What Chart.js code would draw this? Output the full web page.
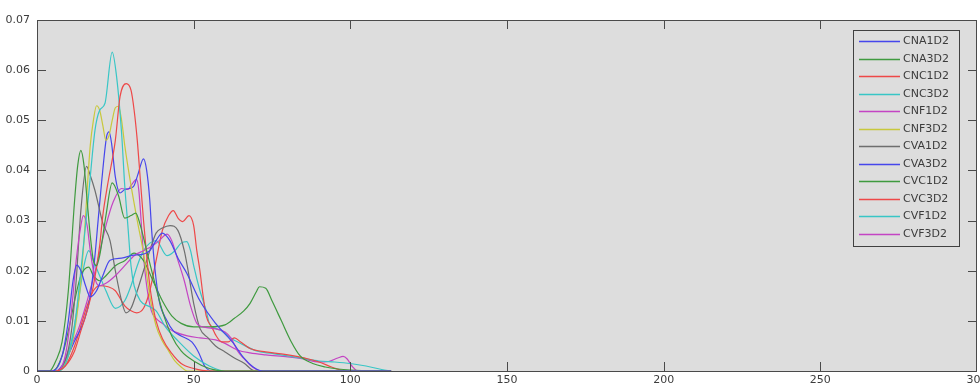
<!DOCTYPE html>
<html>
<head>
<meta charset="utf-8">
<script src="https://cdn.jsdelivr.net/npm/chart.js@4.4.1/dist/chart.umd.min.js"></script>
<style>
  html, body { margin: 0; padding: 0; background: #fff; }
  canvas { display: block; }
</style>
</head>
<body>
<canvas id="myChart" width="980" height="385"></canvas>
<script>
// legend names (same order as the plot)
const seriesNames = ['CNA1D2', 'CNA3D2', 'CNC1D2', 'CNC3D2', 'CNF1D2', 'CNF3D2',
                     'CVA1D2', 'CVA3D2', 'CVC1D2', 'CVC3D2', 'CVF1D2', 'CVF3D2'];
const seriesColors = ['#4646ec', '#3f9a3f', '#ee4848', '#38c6c6', '#c444c4', '#c8c83c',
                      '#6e6e6e', '#4646ec', '#3f9a3f', '#ee4848', '#38c6c6', '#c444c4'];

const xTicks = [0, 50, 100, 150, 200, 250, 300];
const yTicks = [0, 0.01, 0.02, 0.03, 0.04, 0.05, 0.06, 0.07];

// values (x, y) for each curve
const cna1d2X = [0, 5, 8, 10, 11.5, 12.7, 14, 15.5, 17, 19, 21, 23.3, 27, 30.7, 33, 36, 38, 40, 42.4, 45, 47.8, 52, 57, 62.6, 66, 69, 72, 113];
const cna1d2Y = [0, 0, 0.003, 0.01, 0.018, 0.0211, 0.02, 0.017, 0.0148, 0.016, 0.019, 0.0221, 0.0225, 0.0231, 0.0232, 0.024, 0.026, 0.0275, 0.026, 0.0225, 0.0195, 0.014, 0.0095, 0.0056, 0.0026, 0.0008, 0, 0];

const cna3d2X = [0, 4, 6, 8, 10, 12, 13, 14, 15, 16, 17, 18, 19, 20, 22, 24, 26, 28, 30, 31.5, 33, 35, 37, 40, 43, 46, 50, 55, 60, 113];
const cna3d2Y = [0, 0, 0.002, 0.0058, 0.016, 0.034, 0.041, 0.044, 0.041, 0.034, 0.027, 0.022, 0.021, 0.023, 0.031, 0.0375, 0.035, 0.0305, 0.031, 0.0315, 0.029, 0.024, 0.019, 0.012, 0.007, 0.004, 0.002, 0.0005, 0, 0];

const cnc1d2X = [0, 6, 9, 12, 14, 16, 18, 20, 21, 22.5, 25, 26.5, 28.5, 30, 31, 32, 33, 34, 35, 36, 37, 38, 40, 43, 46, 50, 55, 113];
const cnc1d2Y = [0, 0, 0.001, 0.004, 0.008, 0.012, 0.017, 0.025, 0.031, 0.037, 0.046, 0.0547, 0.0573, 0.056, 0.052, 0.046, 0.038, 0.03, 0.023, 0.017, 0.013, 0.01, 0.0065, 0.0035, 0.0015, 0.0005, 0, 0];

const cnc3d2X = [0, 7, 10, 12, 14, 16.3, 18.5, 20, 21.7, 24, 25.4, 27, 28, 29, 30, 31, 33, 36, 38, 41, 45, 50, 55, 60, 113];
const cnc3d2Y = [0, 0, 0.003, 0.009, 0.02, 0.034, 0.048, 0.052, 0.0534, 0.0636, 0.0587, 0.0474, 0.037, 0.029, 0.021, 0.017, 0.014, 0.0128, 0.012, 0.0088, 0.006, 0.003, 0.001, 0, 0];

const cnf1d2X = [0, 6, 9, 11, 12.5, 14, 14.8, 16, 17, 18, 19, 20, 22, 25, 28, 31, 34, 37, 39, 41.5, 43, 45, 47, 49, 51, 53, 56, 60, 62, 64, 66, 68, 70, 72, 113];
const cnf1d2Y = [0, 0, 0.003, 0.012, 0.022, 0.029, 0.031, 0.029, 0.024, 0.02, 0.0175, 0.017, 0.0175, 0.019, 0.021, 0.023, 0.024, 0.025, 0.026, 0.0273, 0.026, 0.022, 0.018, 0.013, 0.0095, 0.0088, 0.0085, 0.0078, 0.0065, 0.004, 0.0025, 0.0012, 0.0003, 0, 0];

const cnf3d2X = [0, 7, 10, 12, 13.5, 15, 16, 17, 18, 19, 20, 21, 22, 23, 24, 25, 26, 27, 28, 30, 32, 34, 36, 38, 40, 42, 44, 46, 48, 113];
const cnf3d2Y = [0, 0, 0.003, 0.008, 0.015, 0.026, 0.036, 0.045, 0.05, 0.0529, 0.052, 0.049, 0.046, 0.047, 0.05, 0.0525, 0.0528, 0.05, 0.045, 0.037, 0.03, 0.0235, 0.015, 0.009, 0.006, 0.004, 0.002, 0.0008, 0, 0];

const cva1d2X = [0, 6, 9, 11, 12.5, 14, 15.8, 17, 18.5, 21, 23.3, 25, 27, 28.4, 30, 32, 34, 36, 38, 40, 42.5, 45, 47, 48, 50, 52, 54.6, 57, 60, 63, 66, 69.6, 113];
const cva1d2Y = [0, 0, 0.002, 0.008, 0.018, 0.032, 0.0408, 0.039, 0.036, 0.0295, 0.026, 0.02, 0.014, 0.0116, 0.0125, 0.016, 0.02, 0.024, 0.0275, 0.0285, 0.029, 0.028, 0.024, 0.0208, 0.0135, 0.0085, 0.0066, 0.005, 0.0038, 0.0026, 0.0016, 0, 0];

const cva3d2X = [0, 6, 9, 12, 15, 17, 18.5, 19.5, 20.6, 22.2, 23, 23.8, 25, 26.5, 28, 30, 31, 32.3, 34, 35, 36, 36.6, 37.7, 39, 41.4, 43.5, 46, 49.4, 51.5, 53.6, 56, 113];
const cva3d2Y = [0, 0, 0.002, 0.006, 0.01, 0.015, 0.023, 0.03, 0.0375, 0.0467, 0.0477, 0.0454, 0.0387, 0.0355, 0.0362, 0.0365, 0.037, 0.0394, 0.0423, 0.04, 0.034, 0.028, 0.02, 0.014, 0.0101, 0.008, 0.007, 0.0058, 0.0038, 0.0009, 0, 0];

const cvc1d2X = [0, 5, 8, 10, 12, 14, 16.5, 18, 20, 22, 25, 28, 31, 34, 37, 40, 43, 46, 50, 55, 60, 63, 66, 68, 70, 71, 73, 75, 78, 81, 84, 88, 92, 96, 100, 113];
const cvc1d2Y = [0, 0, 0.003, 0.008, 0.014, 0.019, 0.0207, 0.019, 0.018, 0.019, 0.021, 0.022, 0.0235, 0.022, 0.018, 0.014, 0.011, 0.0095, 0.0088, 0.0088, 0.0092, 0.0105, 0.012, 0.0135, 0.0158, 0.0168, 0.0165, 0.014, 0.01, 0.006, 0.003, 0.0015, 0.0008, 0.0004, 0.0002, 0];

const cvc3d2X = [0, 6, 9, 12, 14, 16, 18, 20, 22.7, 25, 28, 30, 31.8, 34, 36, 38, 40, 42, 43.5, 45, 46.5, 48.5, 50, 51, 52, 53, 54, 56, 57, 59, 61, 63, 65, 68, 73, 78, 82, 86, 90, 94, 97, 100, 113];
const cvc3d2Y = [0, 0, 0.001, 0.005, 0.009, 0.013, 0.016, 0.017, 0.0168, 0.016, 0.013, 0.012, 0.0116, 0.0125, 0.016, 0.022, 0.028, 0.031, 0.032, 0.0305, 0.0298, 0.031, 0.029, 0.024, 0.02, 0.015, 0.011, 0.0085, 0.0072, 0.0058, 0.0058, 0.0066, 0.0058, 0.0045, 0.0038, 0.0034, 0.003, 0.0025, 0.0018, 0.0008, 0.0002, 0, 0];

const cvf1d2X = [0, 6, 9, 11, 13, 15, 16.5, 18, 20, 22, 25, 28, 30, 32, 34, 36, 38, 41.5, 44, 46, 47.8, 49, 50, 52, 54, 55, 57, 59, 62, 65, 70, 75, 80, 85, 90, 95, 100, 105, 110, 113];
const cvf1d2Y = [0, 0, 0.002, 0.006, 0.013, 0.021, 0.024, 0.022, 0.019, 0.016, 0.0125, 0.014, 0.017, 0.021, 0.024, 0.0255, 0.026, 0.023, 0.024, 0.0255, 0.0258, 0.024, 0.021, 0.016, 0.012, 0.0095, 0.0085, 0.008, 0.0065, 0.0055, 0.004, 0.0035, 0.003, 0.0025, 0.002, 0.0018, 0.0015, 0.001, 0.0003, 0];

const cvf3d2X = [0, 7, 10, 13, 16, 19, 22, 24.3, 27, 29, 30, 31.8, 32.5, 33, 34, 35, 36.5, 38, 40, 42, 44, 48, 52, 57, 60, 64, 68, 73, 80, 85, 90, 93, 96, 97.7, 99, 100.5, 102.5, 113];
const cvf3d2Y = [0, 0, 0.004, 0.008, 0.014, 0.021, 0.029, 0.0337, 0.0364, 0.0362, 0.037, 0.0382, 0.036, 0.032, 0.023, 0.017, 0.012, 0.0105, 0.0095, 0.0085, 0.0078, 0.007, 0.0066, 0.0062, 0.0055, 0.0042, 0.0036, 0.0032, 0.0028, 0.0024, 0.0018, 0.0019, 0.0026, 0.0029, 0.0024, 0.001, 0, 0];

const seriesX = [cna1d2X, cna3d2X, cnc1d2X, cnc3d2X, cnf1d2X, cnf3d2X, cva1d2X, cva3d2X, cvc1d2X, cvc3d2X, cvf1d2X, cvf3d2X];
const seriesY = [cna1d2Y, cna3d2Y, cnc1d2Y, cnc3d2Y, cnf1d2Y, cnf3d2Y, cva1d2Y, cva3d2Y, cvc1d2Y, cvc3d2Y, cvf1d2Y, cvf3d2Y];

const FONT = { family: '"DejaVu Sans", Verdana, sans-serif', size: 11 };
const TEXT = '#3c3c3c';
const FRAME = '#4a4a4a';
const PLOT_BG = '#dddddd';

const datasets = seriesNames.map((name, i) => ({
    label: name,
    data: seriesX[i].map((x, j) => ({ x: x, y: seriesY[i][j] })),
    borderColor: seriesColors[i],
    borderWidth: 1.2,
    pointRadius: 0,
    fill: false,
    cubicInterpolationMode: 'monotone'
}));

// gray plot area + matlab style frame, inward ticks and legend box
const matlabAxes = {
    id: 'matlabAxes',
    beforeDatasetsDraw(chart) {
        const a = chart.chartArea, c = chart.ctx;
        c.save();
        c.fillStyle = PLOT_BG;
        c.fillRect(a.left, a.top, a.right - a.left, a.bottom - a.top);
        c.restore();
    },
    afterDatasetsDraw(chart) {
        const a = chart.chartArea, c = chart.ctx;
        const xs = chart.scales.x, ys = chart.scales.y;
        const tl = 9;
        const L = Math.round(a.left), R = Math.round(a.right) - 1;
        const T = Math.round(a.top), B = Math.round(a.bottom);
        c.save();
        c.fillStyle = FRAME;
        xTicks.forEach(v => {
            const px = Math.min(Math.round(xs.getPixelForValue(v)), R);
            c.fillRect(px, B - tl, 1, tl);
            c.fillRect(px, T, 1, tl);
        });
        yTicks.forEach(v => {
            const py = Math.min(Math.round(ys.getPixelForValue(v)), B);
            c.fillRect(L, py, tl, 1);
            c.fillRect(R - tl + 1, py, tl, 1);
        });
        // frame
        c.fillRect(L, T, R - L + 1, 1);
        c.fillRect(L, B, R - L + 1, 1);
        c.fillRect(L, T, 1, B - T + 1);
        c.fillRect(R, T, 1, B - T + 1);

        // legend
        const bx = a.right - 124, by = a.top + 10, bw = 106, bh = 216;
        c.fillStyle = PLOT_BG;
        c.fillRect(bx, by, bw, bh);
        c.strokeStyle = '#404040';
        c.lineWidth = 1;
        c.strokeRect(Math.round(bx) + 0.5, Math.round(by) + 0.5, bw, bh);
        c.font = FONT.size + 'px ' + FONT.family;
        c.textBaseline = 'middle';
        chart.data.datasets.forEach((ds, i) => {
            const ry = Math.round(by + 11 + i * 17.5) + 0.5;
            c.strokeStyle = ds.borderColor;
            c.lineWidth = 1.3;
            c.beginPath();
            c.moveTo(bx + 6, ry); c.lineTo(bx + 47, ry);
            c.stroke();
            c.fillStyle = TEXT;
            c.fillText(ds.label, bx + 50, ry);
        });
        c.restore();
    }
};

new Chart(document.getElementById('myChart'), {
    type: 'line',
    data: { datasets: datasets },
    options: {
        responsive: false,
        animation: false,
        devicePixelRatio: 1,
        layout: { padding: { top: 20, right: 3, bottom: 0, left: 0 } },
        plugins: { legend: { display: false }, tooltip: { enabled: false } },
        scales: {
            x: {
                type: 'linear',
                min: 0, max: 300,
                afterBuildTicks: s => { s.ticks = xTicks.map(v => ({ value: v })); },
                afterFit: s => { s.height = 14; s.paddingRight = 0; s.paddingLeft = 0; },
                grid: { display: false, drawTicks: false },
                border: { display: false },
                ticks: { padding: 3, font: FONT, color: TEXT, maxRotation: 0, autoSkip: false,
                         callback: v => String(v) }
            },
            y: {
                type: 'linear',
                min: 0, max: 0.07,
                afterBuildTicks: s => { s.ticks = yTicks.map(v => ({ value: v })); },
                afterFit: s => { s.width = 37; },
                grid: { display: false, drawTicks: false },
                border: { display: false },
                ticks: { padding: 7, font: FONT, color: TEXT, autoSkip: false,
                         callback: v => String(+(+v).toFixed(2)) }
            }
        }
    },
    plugins: [matlabAxes]
});
</script>
</body>
</html>
